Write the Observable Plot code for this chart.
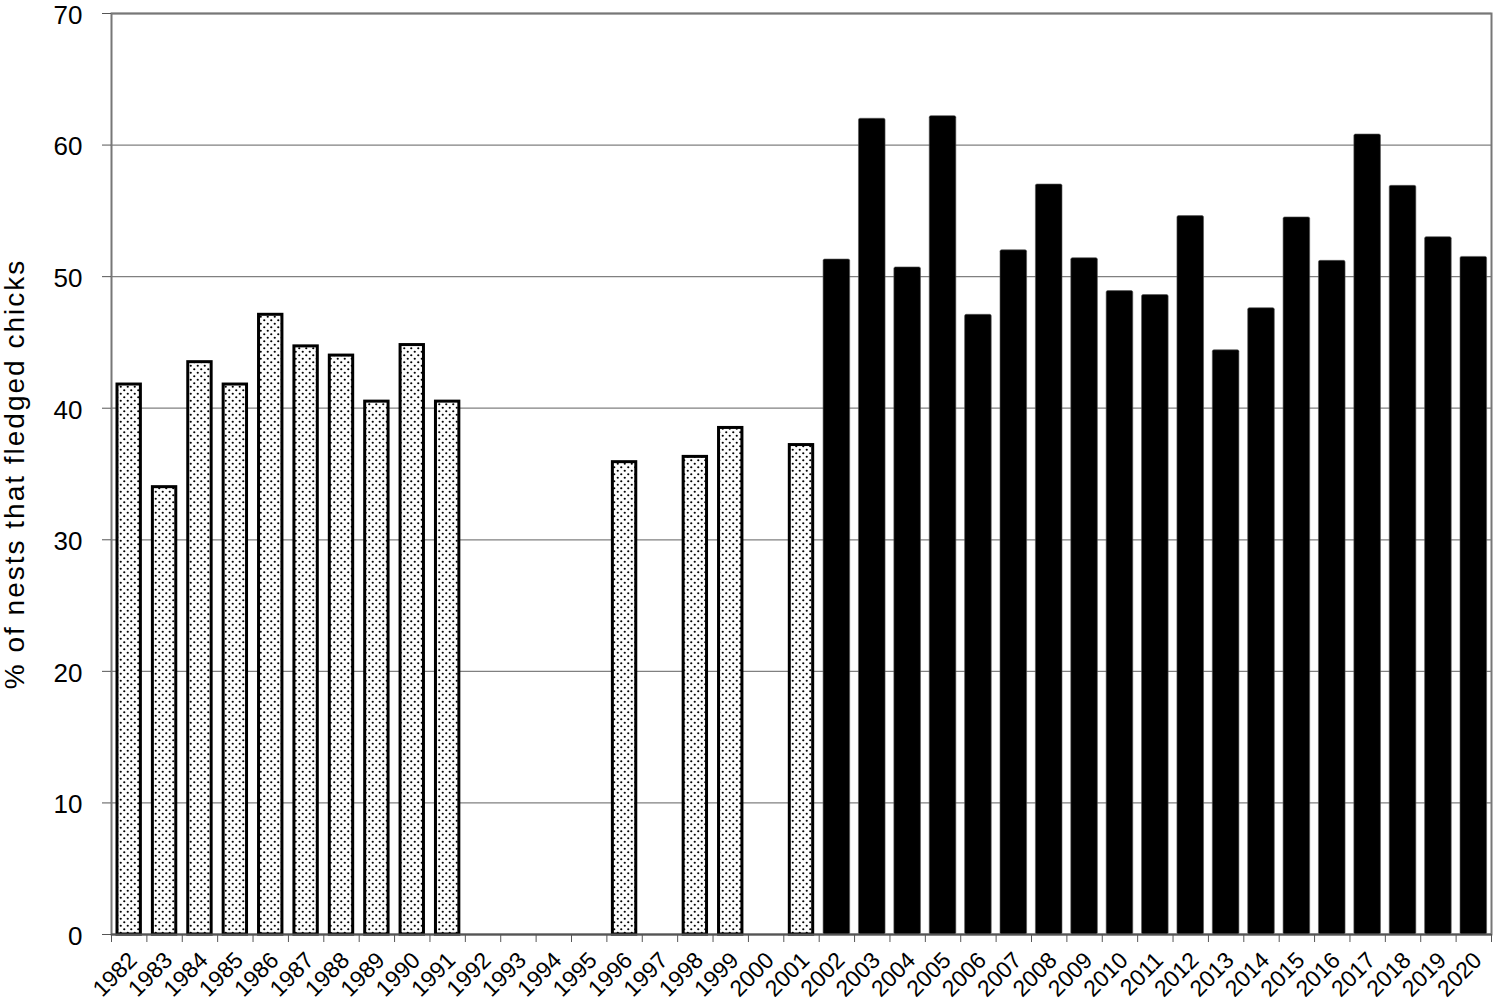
<!DOCTYPE html>
<html><head><meta charset="utf-8">
<script src="https://cdn.jsdelivr.net/npm/d3@7"></script>
<script src="https://cdn.jsdelivr.net/npm/@observablehq/plot@0.6"></script>
<style>
html,body{margin:0;padding:0;background:#fff;}
#chart{width:1495px;height:1005px;}
</style></head><body><div id="chart"></div>
<script>
const axisYears = [1982,1983,1984,1985,1986,1987,1988,1989,1990,1991,1992,1993,1994,1995,1996,1997,1998,1999,2000,2001,2002,2003,2004,2005,2006,2007,2008,2009,2010,2011,2012,2013,2014,2015,2016,2017,2018,2019,2020];
const earlyYears = [1982,1983,1984,1985,1986,1987,1988,1989,1990,1991,1996,1998,1999,2001];
const earlyPct   = [41.8,34.0,43.5,41.8,47.1,44.7,44.0,40.5,44.8,40.5,35.9,36.3,38.5,37.2];
const lateYears  = [2002,2003,2004,2005,2006,2007,2008,2009,2010,2011,2012,2013,2014,2015,2016,2017,2018,2019,2020];
const latePct    = [51.3,62.0,50.7,62.2,47.1,52.0,57.0,51.4,48.9,48.6,54.6,44.4,47.6,54.5,51.2,60.8,56.9,53.0,51.5];
const yTicks = [0,10,20,30,40,50,60,70];
const yTitle = "% of nests that fledged chicks";

const early = earlyYears.map((year, i) => ({year, pct: earlyPct[i]}));
const late = lateYears.map((year, i) => ({year, pct: latePct[i]}));
const boundaries = [...axisYears.map(y => y - 0.5), axisYears[axisYears.length - 1] + 0.5];

const chart = Plot.plot({
  width: 1495, height: 1005,
  marginLeft: 111, marginRight: 4, marginTop: 13, marginBottom: 71,
  style: {fontFamily: "'Liberation Sans', Arial, sans-serif", background: "#fff", color: "#000"},
  x: {type: "linear", domain: [1981.5, 2020.5]},
  y: {domain: [0, 70]},
  marks: [
    Plot.gridY(yTicks.slice(1), {stroke: "#808080", strokeOpacity: 1, strokeWidth: 1.3}),
    Plot.frame({stroke: "#777", strokeWidth: 2}),
    Plot.rect(early, {x1: d => d.year - 0.5, x2: d => d.year + 0.5, y1: 0, y2: "pct",
      insetLeft: 6, insetRight: 6, fill: "url(#dots)", stroke: "#000", strokeWidth: 3}),
    Plot.rect(late, {x1: d => d.year - 0.5, x2: d => d.year + 0.5, y1: 0, y2: "pct",
      insetLeft: 4.4, insetRight: 4.4, fill: "#000", stroke: "#555", strokeWidth: 0.6, rx: 1.5}),
    Plot.ruleY([0], {stroke: "#555", strokeWidth: 2}),
    Plot.axisY({ticks: yTicks, tickSize: 9, tickPadding: 20, fontSize: 26, stroke: "#555",
      label: yTitle, labelAnchor: "center", labelArrow: "none", labelOffset: 107}),
    Plot.axisY({ticks: yTicks, tickSize: 0, tickPadding: 29, fontSize: 26, dy: 2,
      tickFormat: d => String(d), label: null}),
    Plot.axisX({ticks: boundaries, tickSize: 8, tickFormat: () => "", stroke: "#555", label: null}),
    Plot.axisX({ticks: axisYears, tickSize: 0, tickPadding: 22, tickRotate: -45, fontSize: 23,
      dx: 4, tickFormat: d => String(d), label: null})
  ]
});

const svg = chart.tagName.toLowerCase() === "svg" ? chart : chart.querySelector("svg");
const ns = "http://www.w3.org/2000/svg";
const defs = document.createElementNS(ns, "defs");
defs.innerHTML = '<pattern id="dots" patternUnits="userSpaceOnUse" width="7" height="7">' +
  '<rect width="7" height="7" fill="#fdfdfd"/>' +
  '<circle cx="1.75" cy="1.75" r="1.1" fill="#000"/>' +
  '<circle cx="5.25" cy="5.25" r="1.1" fill="#000"/></pattern>';
svg.insertBefore(defs, svg.firstChild);
// first y axis keeps only ticks and title; the second draws the tick labels
const yLabelGroups = svg.querySelectorAll('g[aria-label="y-axis tick label"]');
if (yLabelGroups.length > 1) yLabelGroups[0].remove();
svg.querySelectorAll('g[aria-label="y-axis label"] text').forEach(t => {
  t.setAttribute("letter-spacing", "2");
  t.setAttribute("font-size", "28");
});
document.getElementById("chart").appendChild(chart);
</script></body></html>
